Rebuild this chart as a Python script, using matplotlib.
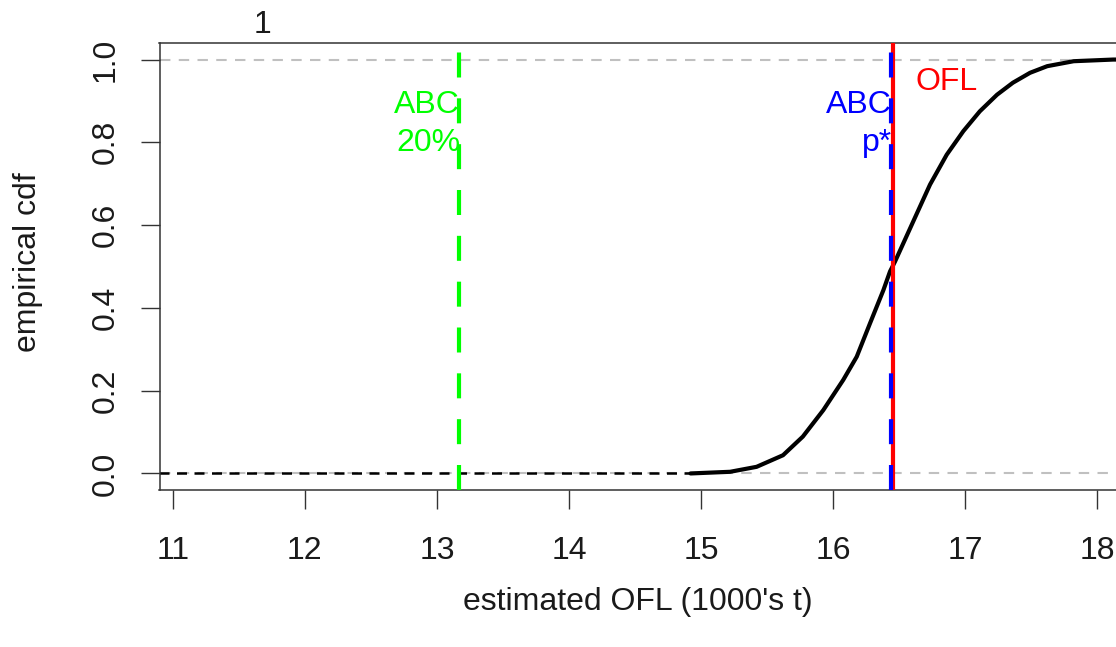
import matplotlib
matplotlib.use("Agg")
from matplotlib import pyplot as plt

plt.rcParams['font.family'] = ['Liberation Sans', 'DejaVu Sans']

# empirical cdf of estimated OFL
ofl_x = [14.92, 15.22, 15.42, 15.62, 15.77, 15.925, 16.076, 16.178, 16.279,
         16.38, 16.43, 16.468, 16.606, 16.733, 16.859, 16.985, 17.11, 17.24,
         17.36, 17.49, 17.62, 17.82, 18.12, 18.30]
cdf_y = [0.000, 0.004, 0.016, 0.044, 0.089, 0.153, 0.226, 0.282, 0.363,
         0.443, 0.488, 0.512, 0.609, 0.698, 0.770, 0.827, 0.875, 0.915,
         0.944, 0.968, 0.984, 0.996, 1.000, 1.000]

abc20 = 13.165
abc_pstar = 16.435
ofl = 16.455

x_ticks = [11, 12, 13, 14, 15, 16, 17, 18]
y_ticks = [0.0, 0.2, 0.4, 0.6, 0.8, 1.0]
y_tick_labels = ["0.0", "0.2", "0.4", "0.6", "0.8", "1.0"]

W, H = 1116, 647
FS = 23
fig = plt.figure(figsize=(W / 100, H / 100), dpi=100)
x0, x1 = 10.9, 18.3
px_per_unit = 132.1
ax = fig.add_axes([159.5 / W, (H - 490) / H, (x1 - x0) * px_per_unit / W, 447 / H])
ax.set_xlim(x0, x1)
ax.set_ylim(-0.04, 1.04)

# reference lines
ax.axhline(0, color="#c0c0c0", lw=1.5, ls=(0, (5, 4)), zorder=1)
ax.axhline(1, color="#c0c0c0", lw=1.5, ls=(0, (5, 4)), zorder=1)
ax.plot([x0, ofl_x[0]], [0, 0], color="black", lw=1.8, ls=(0, (4, 3)), zorder=2)

ax.plot(ofl_x, cdf_y, color="black", lw=3, solid_capstyle="round",
        solid_joinstyle="round", zorder=3)

ax.axvline(abc20, color="#00ff00", lw=3, ls=(0, (6, 5)), zorder=4)
ax.axvline(ofl, color="#ff0000", lw=3, zorder=4)
ax.axvline(abc_pstar, color="#0000ff", lw=3, ls=(0, (6, 5)), zorder=5)

ax.text(abc20 + 0.01, 0.844, "ABC\n20%", color="#00ff00", fontsize=FS,
        ha="right", va="center", multialignment="right", linespacing=1.32)
ax.text(abc_pstar + 0.01, 0.844, "ABC\np*", color="#0000ff", fontsize=FS,
        ha="right", va="center", multialignment="right", linespacing=1.32)
ax.text(ofl + 0.17, 0.945, "OFL", color="#ff0000", fontsize=FS,
        ha="left", va="center")

ax.set_xticks(x_ticks)
ax.set_xticklabels([str(t) for t in x_ticks])
ax.set_yticks(y_ticks)
ax.set_yticklabels(y_tick_labels, rotation=90, va="center")
ax.tick_params(axis="both", length=14, width=1, color="#333333",
               labelsize=FS, labelcolor="#1a1a1a")
ax.tick_params(axis="x", pad=19)
ax.tick_params(axis="y", pad=14)
for s in ax.spines.values():
    s.set_color("#333333")
    s.set_linewidth(1.1)

fig.text(638 / W, 1 - 602 / H, "estimated OFL (1000's t)", fontsize=FS,
         color="#1a1a1a", ha="center", va="center")
fig.text(28 / W, 1 - 262 / H, "empirical cdf", fontsize=FS, color="#1a1a1a",
         ha="center", va="center", rotation=90)
fig.text(263 / W, 1 - 25 / H, "1", fontsize=FS, color="#1a1a1a",
         ha="center", va="center")

fig.savefig("out.png", dpi=100)
